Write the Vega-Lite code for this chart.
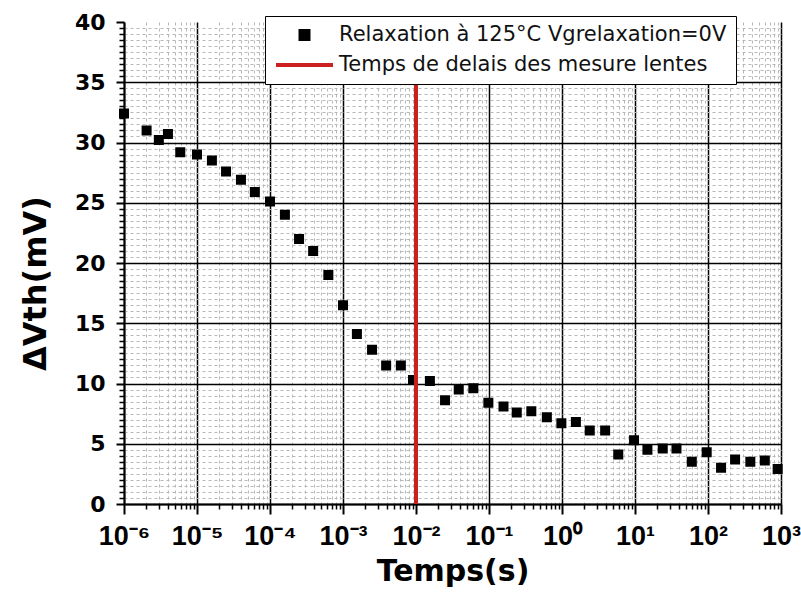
{
  "$schema": "https://vega.github.io/schema/vega-lite/v6.json",
  "width": 657,
  "height": 482,
  "autosize": {"type": "none"},
  "padding": {"left": 124, "top": 22, "right": 20, "bottom": 101},
  "background": "white",
  "config": {"view": {"stroke": null}},
  "resolve": {"axis": {"x": "independent", "y": "independent"}},
  "layer": [
    {
      "data": {"values": [
        {"t": 1e-6, "dv": 32.4}, {"t": 2.04e-6, "dv": 31.0}, {"t": 3.0e-6, "dv": 30.2}, {"t": 4.0e-6, "dv": 30.7},
        {"t": 5.9e-6, "dv": 29.2}, {"t": 1.0e-5, "dv": 29.0}, {"t": 1.6e-5, "dv": 28.5}, {"t": 2.5e-5, "dv": 27.6},
        {"t": 4.0e-5, "dv": 26.9}, {"t": 6.2e-5, "dv": 25.9}, {"t": 1.0e-4, "dv": 25.1}, {"t": 1.6e-4, "dv": 24.0},
        {"t": 2.5e-4, "dv": 22.0}, {"t": 3.9e-4, "dv": 21.0}, {"t": 6.3e-4, "dv": 19.0}, {"t": 1.0e-3, "dv": 16.5},
        {"t": 1.55e-3, "dv": 14.1}, {"t": 2.5e-3, "dv": 12.8}, {"t": 3.9e-3, "dv": 11.5}, {"t": 6.2e-3, "dv": 11.5},
        {"t": 9.1e-3, "dv": 10.3}, {"t": 1.55e-2, "dv": 10.2}, {"t": 2.5e-2, "dv": 8.6}, {"t": 3.85e-2, "dv": 9.5},
        {"t": 6.1e-2, "dv": 9.6}, {"t": 9.8e-2, "dv": 8.4}, {"t": 0.158, "dv": 8.1}, {"t": 0.24, "dv": 7.6},
        {"t": 0.38, "dv": 7.7}, {"t": 0.62, "dv": 7.2}, {"t": 0.98, "dv": 6.7}, {"t": 1.55, "dv": 6.8},
        {"t": 2.4, "dv": 6.1}, {"t": 3.9, "dv": 6.1}, {"t": 5.9, "dv": 4.1}, {"t": 9.7, "dv": 5.3},
        {"t": 14.8, "dv": 4.5}, {"t": 24, "dv": 4.6}, {"t": 37, "dv": 4.6}, {"t": 60, "dv": 3.5},
        {"t": 96, "dv": 4.3}, {"t": 151, "dv": 3.0}, {"t": 235, "dv": 3.7}, {"t": 380, "dv": 3.5},
        {"t": 600, "dv": 3.6}, {"t": 900, "dv": 2.9}
      ]},
      "transform": [{"calculate": "'Relaxation à 125°C Vgrelaxation=0V'", "as": "series"}],
      "mark": {"type": "point", "filled": false, "fill": "black", "fillOpacity": 1, "strokeWidth": 2, "opacity": 1},
      "encoding": {
        "x": {
          "field": "t", "type": "quantitative",
          "scale": {"type": "log", "domain": [1e-6, 1000], "nice": false},
          "axis": {
            "orient": "bottom", "title": null, "labels": false, "domain": false,
            "values": [2e-6,3e-6,4e-6,5e-6,6e-6,7e-6,8e-6,9e-6,2e-5,3e-5,4e-5,5e-5,6e-5,7e-5,8e-5,9e-5,2e-4,3e-4,4e-4,5e-4,6e-4,7e-4,8e-4,9e-4,0.002,0.003,0.004,0.005,0.006,0.007,0.008,0.009,0.02,0.03,0.04,0.05,0.06,0.07,0.08,0.09,0.2,0.3,0.4,0.5,0.6,0.7,0.8,0.9,2,3,4,5,6,7,8,9,20,30,40,50,60,70,80,90,200,300,400,500,600,700,800,900],
            "grid": true, "gridColor": "#b8b8b8", "gridDash": [3, 3], "gridWidth": 1,
            "ticks": true, "tickSize": 5, "tickWidth": 1.5, "tickColor": "black"
          }
        },
        "y": {
          "field": "dv", "type": "quantitative",
          "scale": {"domain": [0, 40], "nice": false},
          "axis": {
            "orient": "left", "title": "ΔVth(mV)", "values": [0,5,10,15,20,25,30,35,40],
            "grid": true, "gridColor": "black", "gridWidth": 1.5,
            "gridOpacity": {"condition": {"test": "datum.value >= 40", "value": 0}, "value": 1},
            "domain": true, "domainColor": "black", "domainWidth": 2,
            "tickSize": 8, "tickWidth": 2, "tickColor": "black",
            "labelFont": "DejaVu Sans", "labelFontWeight": "bold", "labelFontSize": 22, "labelColor": "black", "labelPadding": 11,
            "titleFont": "DejaVu Sans", "titleFontWeight": "bold", "titleFontSize": 32, "titleColor": "black", "titlePadding": 22,
            "titleY": 261, "titleAlign": "center"
          }
        },
        "color": {
          "field": "series", "type": "nominal",
          "scale": {"domain": ["Relaxation à 125°C Vgrelaxation=0V", "Temps de delais des mesure lentes"], "range": ["black", "#cc1f1f"]},
          "legend": {
            "orient": "none", "legendX": 141, "legendY": -6, "title": null,
            "strokeColor": "black", "fillColor": "white", "padding": 9,
            "labelFont": "DejaVu Sans", "labelFontSize": 21, "labelColor": "#111", "labelLimit": 0, "labelOffset": 4,
            "symbolStrokeWidth": 4, "clipHeight": 20, "rowPadding": 9
          }
        },
        "shape": {
          "field": "series", "type": "nominal",
          "scale": {"domain": ["Relaxation à 125°C Vgrelaxation=0V", "Temps de delais des mesure lentes"], "range": ["square", "stroke"]},
          "legend": {
            "orient": "none", "legendX": 141, "legendY": -6, "title": null,
            "strokeColor": "black", "fillColor": "white", "padding": 9,
            "labelFont": "DejaVu Sans", "labelFontSize": 21, "labelColor": "#111", "labelLimit": 0, "labelOffset": 4,
            "symbolStrokeWidth": 4, "clipHeight": 20, "rowPadding": 9
          }
        },
        "size": {
          "field": "series", "type": "nominal",
          "scale": {"domain": ["Relaxation à 125°C Vgrelaxation=0V", "Temps de delais des mesure lentes"], "range": [64, 3249]},
          "legend": {
            "orient": "none", "legendX": 141, "legendY": -6, "title": null,
            "strokeColor": "black", "fillColor": "white", "padding": 9,
            "labelFont": "DejaVu Sans", "labelFontSize": 21, "labelColor": "#111", "labelLimit": 0, "labelOffset": 4,
            "symbolStrokeWidth": 4, "clipHeight": 20, "rowPadding": 9
          }
        }
      }
    },
    {
      "data": {"values": [{"t": 0.01, "lo": 0, "hi": 40}]},
      "mark": {"type": "rule", "strokeWidth": 4, "color": "#cc1f1f"},
      "encoding": {
        "x": {
          "field": "t", "type": "quantitative",
          "scale": {"type": "log", "domain": [1e-6, 1000], "nice": false},
          "axis": {
            "orient": "bottom", "title": "Temps(s)",
            "values": [1e-6,1e-5,1e-4,1e-3,1e-2,1e-1,1,10,100,1000],
            "labelExpr": "'10' + ['⁻⁶','⁻⁵','⁻⁴','⁻³','⁻²','⁻¹','⁰','¹','²','³'][round(log(datum.value)/LN10)+6]",
            "grid": true, "gridColor": "black", "gridWidth": 1.5,
            "domain": true, "domainColor": "black", "domainWidth": 2,
            "tickSize": 10, "tickWidth": 2, "tickColor": "black",
            "labelFont": "Liberation Sans Narrow, Liberation Sans", "labelFontWeight": "bold", "labelFontSize": 27, "labelColor": "black", "labelPadding": 9, "labelFlush": false, "labelOverlap": false,
            "titleFont": "DejaVu Sans", "titleFontWeight": "bold", "titleFontSize": 30, "titleColor": "black", "titlePadding": 7
          }
        },
        "y": {
          "field": "lo", "type": "quantitative",
          "scale": {"domain": [0, 40], "nice": false},
          "axis": {
            "orient": "left", "title": null, "labels": false, "domain": false,
            "values": [0.5,1,1.5,2,2.5,3,3.5,4,4.5,5.5,6,6.5,7,7.5,8,8.5,9,9.5,10.5,11,11.5,12,12.5,13,13.5,14,14.5,15.5,16,16.5,17,17.5,18,18.5,19,19.5,20.5,21,21.5,22,22.5,23,23.5,24,24.5,25.5,26,26.5,27,27.5,28,28.5,29,29.5,30.5,31,31.5,32,32.5,33,33.5,34,34.5,35.5,36,36.5,37,37.5,38,38.5,39,39.5],
            "grid": true, "gridColor": "#b8b8b8", "gridDash": [3, 3], "gridWidth": 1,
            "ticks": true, "tickSize": 5, "tickWidth": 1.5, "tickColor": "black"
          }
        },
        "y2": {"field": "hi"}
      }
    }
  ]
}
